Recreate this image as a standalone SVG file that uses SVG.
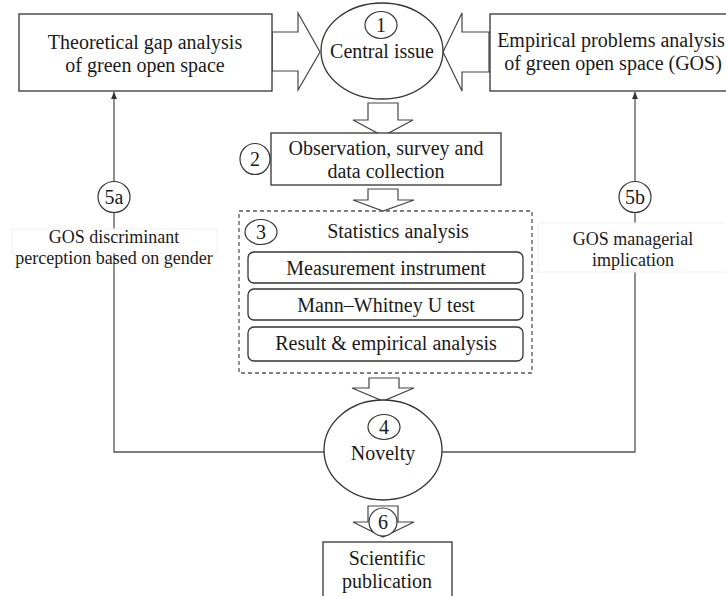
<svg xmlns="http://www.w3.org/2000/svg" width="726" height="596" viewBox="0 0 726 596">
<style>
  text { fill: #1a1a1a; text-anchor: middle; }
  .box { fill: #fff; stroke: #333; stroke-width: 1.3; }
  .rbox { fill: #fff; stroke: #333; stroke-width: 1.3; }
  .dash { fill: none; stroke: #555; stroke-width: 1.3; stroke-dasharray: 4 3; }
  .blk { fill: #fff; stroke: #444; stroke-width: 1.2; stroke-linejoin: miter; }
  .ln { fill: none; stroke: #555; stroke-width: 1.3; }
  .num { fill: #fff; stroke: #333; stroke-width: 1.2; }
  .lbg { fill: #fff; stroke: #f0f0f0; stroke-width: 1; }
</style>
<defs>
  <marker id="ah" markerWidth="8" markerHeight="8" refX="7" refY="4" orient="auto" markerUnits="userSpaceOnUse">
    <path d="M0,1 L7,4 L0,7 z" fill="#333"/>
  </marker>
</defs>
<rect width="726" height="596" fill="#fff"/>

<g id="connectors">
  <polyline class="ln" points="324,452 114,452 114,92" marker-end="url(#ah)"/>
  <polyline class="ln" points="442,452 635,452 635,92" marker-end="url(#ah)"/>
  <polygon class="blk" points="272,32 298,32 298,13 320,52 298,90 298,71 272,71"/>
  <polygon class="blk" points="489,32 462,32 462,13 443,52 462,91 462,72 489,72"/>
  <polygon class="blk" points="368,103 398,103 398,120 413,120 383,136 353,120 368,120"/>
  <polygon class="blk" points="368,189 398,189 398,200 414,200 383,211 353,200 368,200"/>
  <polygon class="blk" points="369,378 399,378 399,388 414,388 383,401 352,388 369,388"/>
  <polygon class="blk" points="368,506 398,506 398,522 414,522 383,537 353,522 368,522"/>
</g>

<g id="theoretical">
  <rect class="box" x="19" y="14" width="253" height="77"/>
  <text font-family="Liberation Serif" font-size="20" x="145" y="49">Theoretical gap analysis</text>
  <text font-family="Liberation Serif" font-size="20" x="145" y="72">of green open space</text>
</g>

<g id="central">
  <ellipse class="box" cx="382" cy="51" rx="61" ry="48"/>
  <ellipse class="num" cx="381" cy="25" rx="16" ry="13.5"/>
  <text font-family="Liberation Serif" font-size="20" x="381" y="32">1</text>
  <text font-family="Liberation Serif" font-size="20" x="382" y="58">Central issue</text>
</g>

<g id="empirical">
  <rect class="box" x="490" y="14" width="250" height="77"/>
  <text font-family="Liberation Serif" font-size="20" x="611" y="47">Empirical problems analysis</text>
  <text font-family="Liberation Serif" font-size="20" x="613" y="70">of green open space (GOS)</text>
</g>

<g id="observation">
  <rect class="box" x="271" y="133" width="230" height="52"/>
  <ellipse class="num" cx="255" cy="159" rx="15" ry="15.5"/>
  <text font-family="Liberation Serif" font-size="20" x="255" y="166">2</text>
  <text font-family="Liberation Serif" font-size="20" x="386" y="155">Observation, survey and</text>
  <text font-family="Liberation Serif" font-size="20" x="386" y="178">data collection</text>
</g>

<g id="statistics">
  <rect class="dash" x="239" y="211" width="293" height="162"/>
  <ellipse class="num" cx="261" cy="232" rx="16" ry="12.5"/>
  <text font-family="Liberation Serif" font-size="20" x="261" y="239">3</text>
  <text font-family="Liberation Serif" font-size="20" x="398" y="238">Statistics analysis</text>
  <rect class="rbox" x="248" y="252" width="275" height="31" rx="6"/>
  <text font-family="Liberation Serif" font-size="20" x="386" y="275">Measurement instrument</text>
  <rect class="rbox" x="248" y="289" width="275" height="31" rx="6"/>
  <text font-family="Liberation Serif" font-size="20" x="386" y="312">Mann–Whitney U test</text>
  <rect class="rbox" x="248" y="327" width="275" height="34" rx="6"/>
  <text font-family="Liberation Serif" font-size="20" x="386" y="350">Result &amp; empirical analysis</text>
</g>

<g id="novelty">
  <ellipse class="box" cx="383" cy="450" rx="59" ry="50"/>
  <ellipse class="num" cx="384" cy="427" rx="16" ry="12.5"/>
  <text font-family="Liberation Serif" font-size="20" x="384" y="434">4</text>
  <text font-family="Liberation Serif" font-size="20" x="383" y="460">Novelty</text>
</g>

<g id="label5a">
  <ellipse class="num" cx="114" cy="197" rx="16" ry="15.5"/>
  <text font-family="Liberation Serif" font-size="20" x="114" y="204">5a</text>
  <rect class="lbg" x="12" y="229" width="205" height="24"/>
  <text font-family="Liberation Serif" font-size="18" x="114" y="243">GOS discriminant</text>
  <text font-family="Liberation Serif" font-size="18" x="114" y="264">perception based on gender</text>
</g>

<g id="label5b">
  <ellipse class="num" cx="635" cy="197" rx="16" ry="15.5"/>
  <text font-family="Liberation Serif" font-size="20" x="635" y="204">5b</text>
  <rect class="lbg" x="538" y="223" width="200" height="49"/>
  <text font-family="Liberation Serif" font-size="18" x="633" y="245">GOS managerial</text>
  <text font-family="Liberation Serif" font-size="18" x="633" y="266">implication</text>
</g>

<g id="step6">
  <circle class="num" cx="383" cy="522" r="14"/>
  <text font-family="Liberation Serif" font-size="20" x="383" y="529">6</text>
</g>

<g id="publication">
  <rect class="box" x="323" y="542" width="129" height="70"/>
  <text font-family="Liberation Serif" font-size="20" x="387" y="565">Scientific</text>
  <text font-family="Liberation Serif" font-size="20" x="387" y="588">publication</text>
</g>
</svg>
